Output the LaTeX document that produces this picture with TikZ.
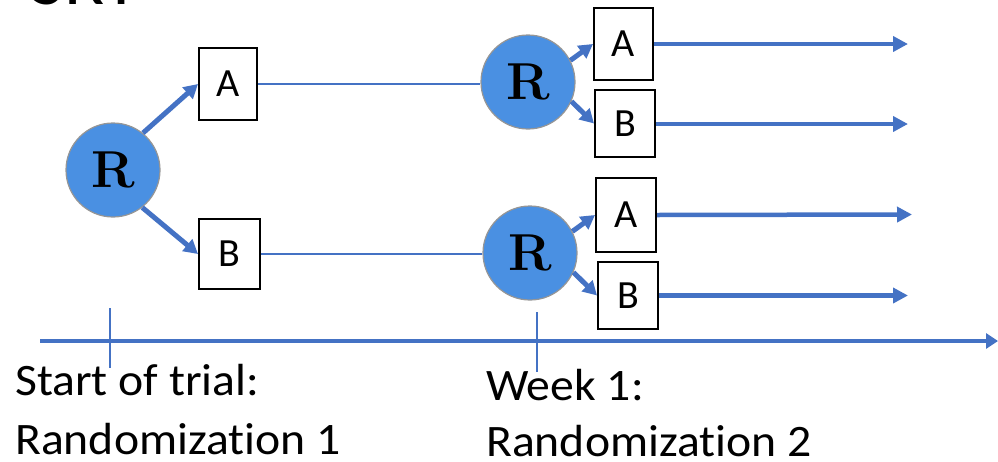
\documentclass[tikz,border=0pt]{standalone}
\usepackage{fontspec}
\newfontfamily\calfont{Carlito}
\newfontfamily\calwide[FakeStretch=1.06,Ligatures=NoCommon]{Carlito}
\usetikzlibrary{arrows.meta}
\definecolor{rfill}{RGB}{74,144,226}
\definecolor{lblue}{RGB}{68,114,196}
\definecolor{rgray}{RGB}{150,150,150}
\tikzset{
  rnode/.style={circle, minimum size=94pt, inner sep=0pt, fill=rfill, draw=rgray, line width=1.2pt,
    font=\fontsize{52}{52}\selectfont\bfseries},
  box/.style={rectangle, draw=black, line width=2pt, inner sep=0pt, minimum width=60pt,
    font=\calfont\fontsize{40}{40}\selectfont},
  thin/.style={draw=lblue, line width=2pt},
  thick/.style={draw=lblue, line width=4.5pt, -{Triangle[length=15pt,width=15pt]}},
  branch/.style={draw=lblue, line width=5pt, -{Triangle[length=14pt,width=15pt]}},
  tick/.style={draw=lblue, line width=2pt},
  lbl/.style={anchor=base west, inner sep=0pt, font=\calwide\fontsize{45}{54}\selectfont}
}
\begin{document}
\begin{tikzpicture}[x=1pt,y=-1pt]
\useasboundingbox (0,0) rectangle (998,461);
\clip (0,0) rectangle (998,461);
% title (cut off)
\node[anchor=base west, inner sep=0pt, font=\calfont\fontsize{74}{74}\selectfont] (title) at (30,4) {SRT};
% nodes
\node[rnode] (R1) at (113,170) {R};
\node[rnode] (R2) at (528,82) {R};
\node[rnode] (R3) at (530,253) {R};
\node[box, minimum width=58pt, minimum height=72pt] (A1) at (228,84) {A};
\node[box, minimum width=61pt, minimum height=70pt] (B1) at (229.5,254) {B};
\node[box, minimum width=59pt, minimum height=72pt] (A2) at (623.5,44) {A};
\node[box, minimum width=60pt, minimum height=67pt] (B2) at (625,123.5) {B};
\node[box, minimum width=60pt, minimum height=74pt] (A3) at (626,215) {A};
\node[box, minimum width=60pt, minimum height=67pt] (B3) at (628,295.5) {B};
% free ends
\coordinate (e1) at (908,44);
\coordinate (e2) at (908,124);
\coordinate (e3) at (912,214.5);
\coordinate (e4) at (908,295.5);
\coordinate (ax0) at (40,341);
\coordinate (ax1) at (998,341);
\coordinate (t1top) at (110,308);
\coordinate (t1bot) at (110,368);
\coordinate (t2top) at (537,312);
\coordinate (t2bot) at (537,372);
% branches
\draw[branch] (R1.51) -- (A1.west);
\draw[branch] (R1.-52) -- (B1.west);
\draw[branch] (R2.27) -- (A2.west);
\draw[branch] (R2.-24) -- (B2.west);
\draw[branch] (R3.27) -- (A3.west);
\draw[branch] (R3.-24) -- (B3.west);
% connectors
\draw[thin] (A1.east) -- (A1.east -| R2.west);
\draw[thin] (B1.east) -- (B1.east -| R3.west);
\draw[thick] (A2.east) -- (e1);
\draw[thick] (B2.east |- e2) -- (e2);
\draw[thick] (A3.east) -- (e3);
\draw[thick] (B3.east) -- (e4);
% axis
\draw[draw=lblue, line width=4pt, -{Triangle[length=12pt,width=15pt]}] (ax0) -- (ax1);
\draw[tick] (t1top) -- (t1bot);
\draw[tick] (t2top) -- (t2bot);
% labels
\node[lbl] (s1) at (15,395) {Start of trial:};
\node[lbl] (s2) at (15,454) {Randomization 1};
\node[lbl] (w1) at (486,400) {Week 1:};
\node[lbl] (w2) at (486,456) {Randomization 2};
\end{tikzpicture}
\end{document}
